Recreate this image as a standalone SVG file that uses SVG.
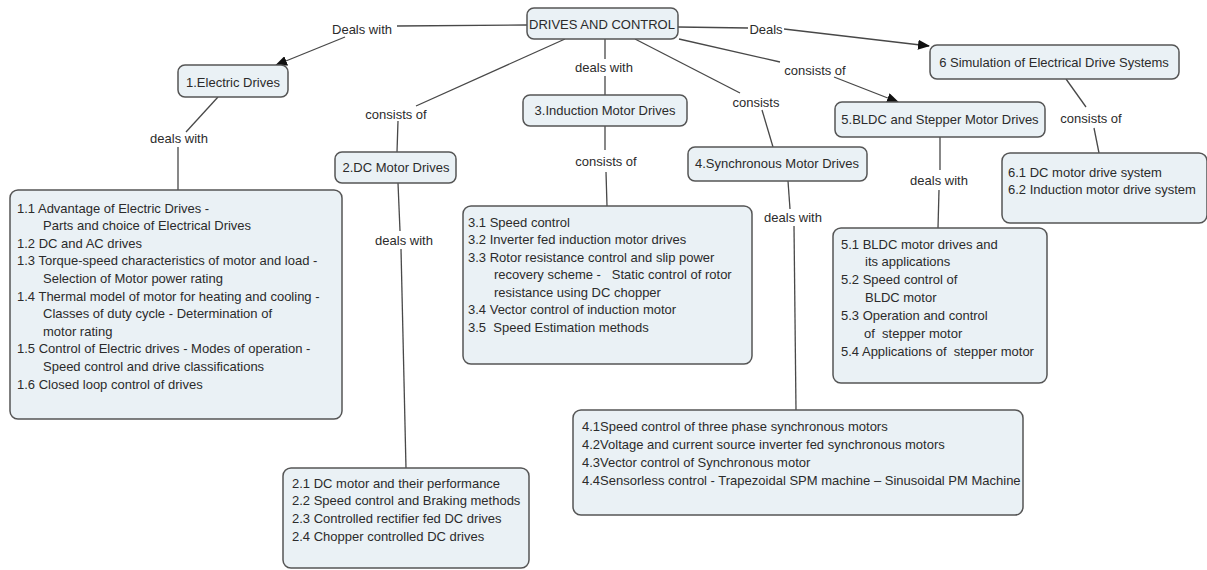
<svg xmlns="http://www.w3.org/2000/svg" width="1207" height="570" viewBox="0 0 1207 570">
<style>
.n rect{fill:#eaf1f5;stroke:#555;stroke-width:1.5}
.n text{font-family:"Liberation Sans",Arial,sans-serif;font-size:13px;fill:#2b2b2b}
.t{text-anchor:middle}
.c path{fill:none;stroke:#484848;stroke-width:1.3}
.c text{font-family:"Liberation Sans",Arial,sans-serif;font-size:13px;fill:#2b2b2b;text-anchor:middle}
</style>
<defs>
<marker id="ar" markerUnits="userSpaceOnUse" markerWidth="12" markerHeight="10" viewBox="0 0 12 10" refX="11" refY="5" orient="auto">
<path d="M0,0 L12,5 L0,10 z" fill="#111"/>
</marker>
</defs>
<rect width="1207" height="570" fill="#fff"/>
<g class="c" id="connectors">
<path d="M527,25 L397,26"/>
<path d="M345,37 L276,65" marker-end="url(#ar)"/>
<text x="362" y="33.5">Deals with</text>
<path d="M678,27 L748,28"/>
<path d="M784,29 L929,46" marker-end="url(#ar)"/>
<text x="766" y="33.5">Deals</text>
<path d="M605,39 L605,59"/>
<path d="M605,76 L605,95"/>
<text x="604" y="71.5">deals with</text>
<path d="M565,39 L416,106"/>
<path d="M398,121 L397,152"/>
<text x="396" y="118.5">consists of</text>
<path d="M635,39 L740,93"/>
<path d="M762,110 L773,147"/>
<text x="756" y="107">consists</text>
<path d="M679,39 L780,62"/>
<path d="M834,77 L898,102" marker-end="url(#ar)"/>
<text x="815" y="74.5">consists of</text>
<path d="M218,97 L186,132"/>
<path d="M178,147 L178,190"/>
<text x="179" y="143">deals with</text>
<path d="M398,183 L400,231"/>
<path d="M401,249 L406,468"/>
<text x="404" y="244.5">deals with</text>
<path d="M605,126 L605,150"/>
<path d="M606,172 L607,206"/>
<text x="606" y="165.5">consists of</text>
<path d="M788,181 L790,209"/>
<path d="M794,226 L796,410"/>
<text x="793" y="221.5">deals with</text>
<path d="M940,137 L940,170"/>
<path d="M939,190 L938,228"/>
<text x="939" y="184.5">deals with</text>
<path d="M1066,79 L1086,107"/>
<path d="M1094,128 L1099,153"/>
<text x="1091" y="122.5">consists of</text>
</g>
<g class="n" id="root"><rect x="527" y="8" width="151" height="31" rx="7"/><text class="t" x="602" y="28.5">DRIVES AND CONTROL</text></g>
<g class="n" id="n1"><rect x="178" y="65" width="110" height="32" rx="7"/><text class="t" x="233" y="86.5">1.Electric Drives</text></g>
<g class="n" id="n2"><rect x="335" y="152" width="121" height="31" rx="7"/><text class="t" x="396" y="171.5">2.DC Motor Drives</text></g>
<g class="n" id="n3"><rect x="523" y="95" width="164" height="31" rx="7"/><text class="t" x="605" y="115">3.Induction Motor Drives</text></g>
<g class="n" id="n4"><rect x="688" y="147" width="179" height="34" rx="7"/><text class="t" x="777" y="168">4.Synchronous Motor Drives</text></g>
<g class="n" id="n5"><rect x="835" y="102" width="210" height="35" rx="7"/><text class="t" x="940" y="124">5.BLDC and Stepper Motor Drives</text></g>
<g class="n" id="n6"><rect x="930" y="45" width="249" height="34" rx="7"/><text class="t" x="1054" y="66.5">6 Simulation of Electrical Drive Systems</text></g>
<g class="n" id="b1"><rect x="10" y="190" width="332" height="229" rx="8"/><text xml:space="preserve"><tspan x="17" y="212.5">1.1 Advantage of Electric Drives -</tspan><tspan x="43" y="230.1">Parts and choice of Electrical Drives</tspan><tspan x="17" y="247.7">1.2 DC and AC drives</tspan><tspan x="17" y="265.3">1.3 Torque-speed characteristics of motor and load -</tspan><tspan x="43" y="282.9">Selection of Motor power rating</tspan><tspan x="17" y="300.5">1.4 Thermal model of motor for heating and cooling -</tspan><tspan x="43" y="318.1">Classes of duty cycle - Determination of</tspan><tspan x="43" y="335.7">motor rating</tspan><tspan x="17" y="353.3">1.5 Control of Electric drives - Modes of operation -</tspan><tspan x="43" y="370.9">Speed control and drive classifications</tspan><tspan x="17" y="388.5">1.6 Closed loop control of drives</tspan></text></g>
<g class="n" id="b2"><rect x="283" y="468" width="246" height="100" rx="8"/><text xml:space="preserve"><tspan x="292" y="487.5">2.1 DC motor and their performance</tspan><tspan x="292" y="505.2">2.2 Speed control and Braking methods</tspan><tspan x="292" y="522.9">2.3 Controlled rectifier fed DC drives</tspan><tspan x="292" y="540.6">2.4 Chopper controlled DC drives</tspan></text></g>
<g class="n" id="b3"><rect x="463" y="206" width="289" height="158" rx="8"/><text xml:space="preserve"><tspan x="468" y="226.5">3.1 Speed control</tspan><tspan x="468" y="244">3.2 Inverter fed induction motor drives</tspan><tspan x="468" y="261.5">3.3 Rotor resistance control and slip power</tspan><tspan x="494" y="279">recovery scheme -   Static control of rotor</tspan><tspan x="494" y="296.5">resistance using DC chopper</tspan><tspan x="468" y="314">3.4 Vector control of induction motor</tspan><tspan x="468" y="331.5">3.5  Speed Estimation methods</tspan></text></g>
<g class="n" id="b4"><rect x="573" y="410" width="450" height="105" rx="8"/><text xml:space="preserve"><tspan x="582" y="430.5">4.1Speed control of three phase synchronous motors</tspan><tspan x="582" y="448.5">4.2Voltage and current source inverter fed synchronous motors</tspan><tspan x="582" y="466.5">4.3Vector control of Synchronous motor</tspan><tspan x="582" y="484.5">4.4Sensorless control - Trapezoidal SPM machine – Sinusoidal PM Machine</tspan></text></g>
<g class="n" id="b5"><rect x="833" y="228" width="214" height="155" rx="8"/><text xml:space="preserve"><tspan x="841" y="248.5">5.1 BLDC motor drives and</tspan><tspan x="865" y="266.4">its applications</tspan><tspan x="841" y="284.3">5.2 Speed control of</tspan><tspan x="865" y="302.2">BLDC motor</tspan><tspan x="841" y="320.1">5.3 Operation and control</tspan><tspan x="864" y="338">of  stepper motor</tspan><tspan x="841" y="355.9">5.4 Applications of  stepper motor</tspan></text></g>
<g class="n" id="b6"><rect x="1002" y="153" width="205" height="70" rx="8"/><text xml:space="preserve"><tspan x="1008" y="176.5">6.1 DC motor drive system</tspan><tspan x="1008" y="194">6.2 Induction motor drive system</tspan></text></g>
</svg>
